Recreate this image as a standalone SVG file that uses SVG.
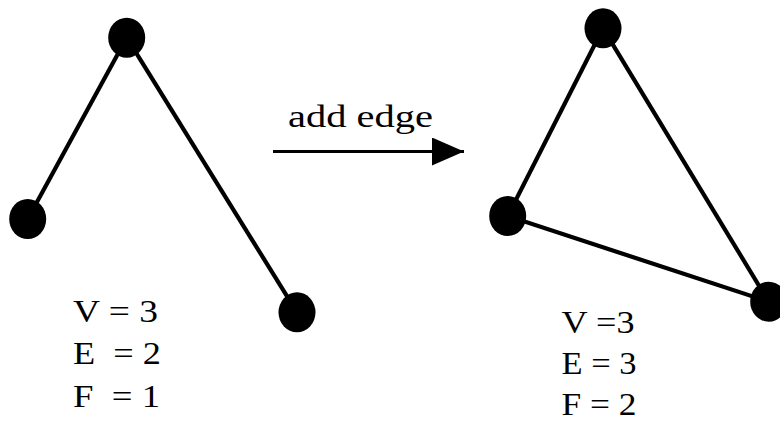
<svg xmlns="http://www.w3.org/2000/svg" width="780" height="421" viewBox="0 0 780 421">
<style>
.e{stroke:#000;stroke-width:4.2;fill:none}
.n{fill:#000}
text{font-family:"Liberation Serif","DejaVu Serif",serif;font-size:32px;fill:#000}
</style>
<defs>
<marker id="ah" markerWidth="34" markerHeight="28" refX="32" refY="14" markerUnits="userSpaceOnUse" orient="auto">
<path d="M0,0 L32,14 L0,28 Z" fill="#000"/>
</marker>
</defs>
<g id="connectors">
<line class="e" x1="126.7" y1="37.7" x2="27.7" y2="219"/>
<line class="e" x1="126.7" y1="37.7" x2="297" y2="312.3"/>
<line class="e" x1="603" y1="28.3" x2="507.7" y2="216"/>
<line class="e" x1="603" y1="28.3" x2="768.7" y2="301.7"/>
<line class="e" x1="507.7" y1="216" x2="768.7" y2="301.7"/>
<line x1="273" y1="151.5" x2="464" y2="151.5" stroke="#000" stroke-width="3" marker-end="url(#ah)"/>
</g>
<g id="L1"><ellipse class="n" cx="126.7" cy="37.7" rx="18.5" ry="20"/></g>
<g id="L2"><ellipse class="n" cx="27.7" cy="219" rx="18.5" ry="20"/></g>
<g id="L3"><ellipse class="n" cx="297" cy="312.3" rx="18.5" ry="20"/></g>
<g id="R1"><ellipse class="n" cx="603" cy="28.3" rx="18.5" ry="20"/></g>
<g id="R2"><ellipse class="n" cx="507.7" cy="216" rx="18.5" ry="20"/></g>
<g id="R3"><ellipse class="n" cx="768.7" cy="301.7" rx="18.5" ry="20"/></g>
<g id="labels">
<text x="288" y="127" textLength="145" lengthAdjust="spacingAndGlyphs">add edge</text>
<text x="73" y="322" xml:space="preserve" textLength="85" lengthAdjust="spacingAndGlyphs">V = 3</text>
<text x="73" y="364" xml:space="preserve" textLength="88" lengthAdjust="spacingAndGlyphs">E  = 2</text>
<text x="73" y="407" xml:space="preserve" textLength="87" lengthAdjust="spacingAndGlyphs">F  = 1</text>
<text x="561.5" y="333" textLength="73" lengthAdjust="spacingAndGlyphs">V =3</text>
<text x="561.5" y="374" textLength="75" lengthAdjust="spacingAndGlyphs">E = 3</text>
<text x="561.5" y="415" textLength="75" lengthAdjust="spacingAndGlyphs">F = 2</text>
</g>
</svg>
